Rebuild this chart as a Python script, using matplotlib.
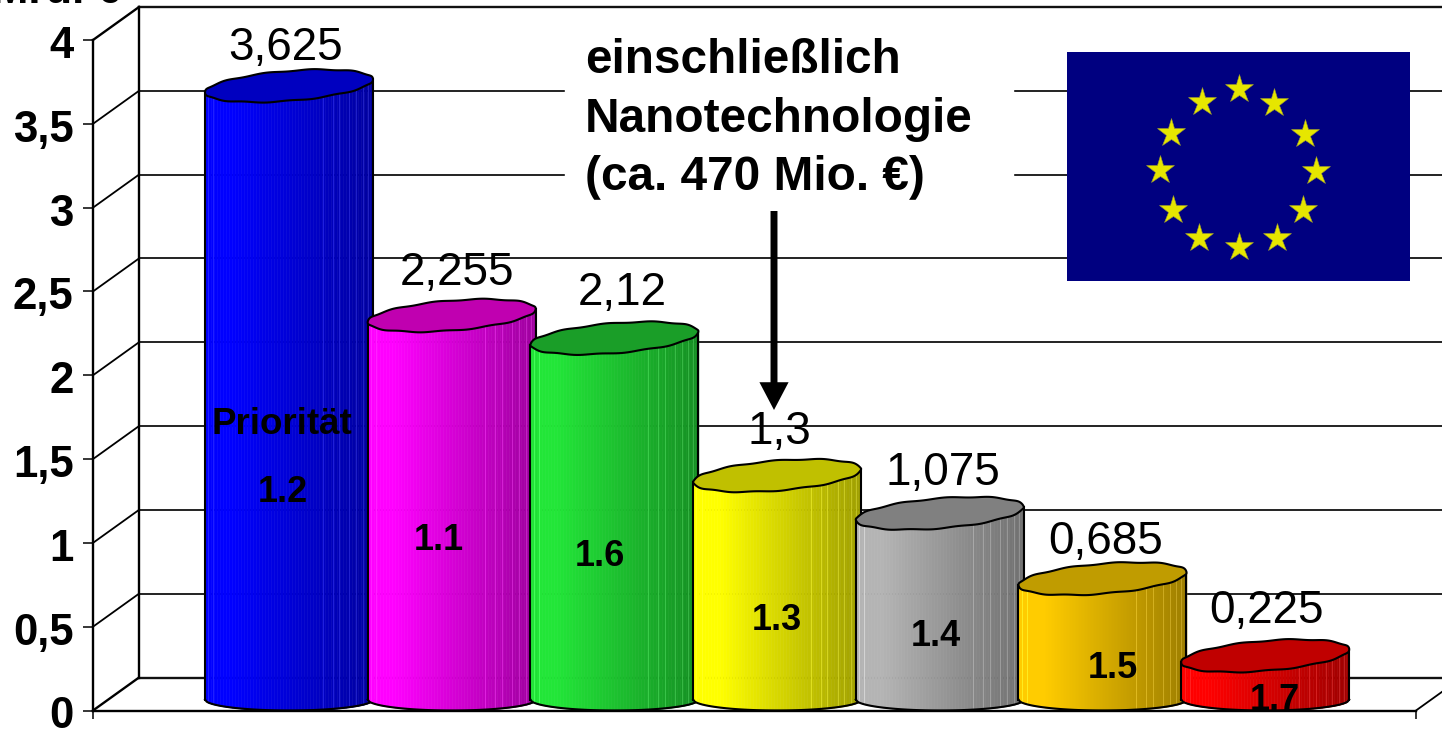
import numpy as np
import matplotlib
matplotlib.use('Agg')
import matplotlib.pyplot as plt
from matplotlib.colors import to_rgb
from matplotlib.transforms import ScaledTranslation

plt.rcParams['font.family'] = ['Liberation Sans', 'DejaVu Sans']

W, H = 1442, 733

# Daten
prioritaeten = ['1.2', '1.1', '1.6', '1.3', '1.4', '1.5', '1.7']
werte = [3.625, 2.255, 2.12, 1.3, 1.075, 0.685, 0.225]
wert_texte = ['3,625', '2,255', '2,12', '1,3', '1,075', '0,685', '0,225']
y_ticks = [0, 0.5, 1, 1.5, 2, 2.5, 3, 3.5, 4]
y_tick_texte = ['0', '0,5', '1', '1,5', '2', '2,5', '3', '3,5', '4']

# Farben der Zylinder (Mantel, Deckel)
mantel = ['#0000ff', '#ff00ff', '#22e638', '#ffff00', '#b4b4b4', '#ffcc00', '#ff0000']
deckel = ['#0000c0', '#c000b0', '#1a9e28', '#c0c000', '#808080', '#c09c00', '#c00000']

# Position der Beschriftungen in Pixeln
wert_dx = [-3, 5, 8, 2, 3, 3, 1]
wert_dy = [43, 48, 50, 49, 45, 42, 50]
prio_xy = [(283, 493), (439, 540), (600, 557), (777, 621), (936, 636), (1113, 669), (1275, 701)]

# Sterne der Flagge in Pixeln
sterne_x = [1239, 1274, 1305, 1316, 1303, 1277, 1239, 1199, 1173, 1160, 1171, 1202]
sterne_y = [89, 103, 134, 171, 210, 238, 247, 238, 210, 170, 133, 102]

# Achsenbereich im Bild
links, rechts, unten, oben = 93, 1416, 710.5, 40
px_x = 1 / 162.7
px_y = 4.0 / (unten - oben)
x0 = (links - 289) * px_x
x1 = (rechts - 289) * px_x
tiefe_x = 46 * px_x
tiefe_y = 33 * px_y


def fx(x):
    return x / W


def fy(y):
    return 1 - y / H


def helligkeit(t):
    return 1.0 if t < 0.15 else 1.0 - 0.38 * (t - 0.15) / 0.85


def zylinder(ax, i, wert, farbe, farbe_oben):
    z = 10 + i
    a = 84 * px_x
    base = np.array(to_rgb(farbe))

    # Oberkante (Gerade zwischen den Deckelenden) und Unterkante des Mantels
    zentrum = wert + 17 * px_y
    kipp = 6.5 * px_y

    def unterkante(x):
        u = np.clip((x - i) / a, -1, 1)
        return 11 * px_y * (1 - np.sqrt(1 - u ** 2))

    kanten = np.linspace(i - a, i + a, 57)
    for k in range(56):
        t = (k + 0.5) / 56
        xs = kanten[k:k + 2]
        oben_y = zentrum + kipp * ((xs - i) / a)
        ax.fill_between(xs, unterkante(xs), oben_y, color=base * helligkeit(t), lw=0.4, zorder=z)

    # helle Streifen auf dem Mantel
    for t in [0.02, 0.05, 0.70, 0.76, 0.80, 0.86, 0.90, 0.94, 0.97]:
        xs = i - a + 2 * a * t
        c = np.minimum(base * helligkeit(t) + 0.13, 1)
        ax.plot([xs, xs], [unterkante(np.array(xs)), zentrum + kipp * ((xs - i) / a)],
                color=c, lw=0.7, zorder=z, solid_capstyle='butt')

    # Umriss des Mantels
    xb = np.linspace(i - a, i + a, 100)
    ax.plot(xb, unterkante(xb), color='k', lw=1.5, zorder=z)
    ax.plot([i - a, i - a], [unterkante(np.array(i - a)), zentrum - kipp], color='k', lw=1.5, zorder=z)
    ax.plot([i + a, i + a], [unterkante(np.array(i + a)), zentrum + kipp], color='k', lw=1.5, zorder=z)

    # Deckel
    th = np.linspace(0, 2 * np.pi, 200)
    wellen = 0.5 * px_y * np.sin(11 * th + i)
    ex = i + a * np.cos(th)
    ey = zentrum + 15 * px_y * np.sin(th) + kipp * np.cos(th) + wellen
    ax.fill(ex, ey, facecolor=farbe_oben, edgecolor='k', lw=1.5, zorder=z + 0.5)


fig = plt.figure(figsize=(W / 100, H / 100), dpi=100, facecolor='white')
ax = fig.add_axes([fx(links), 1 - unten / H, (rechts - links) / W, (unten - oben) / H])
ax.set_xlim(x0, x1)
ax.set_ylim(0, 4)

for s in ['top', 'right']:
    ax.spines[s].set_visible(False)
for s in ['left', 'bottom']:
    ax.spines[s].set_linewidth(1.7)
    ax.spines[s].set_zorder(30)

ax.set_yticks(y_ticks)
ax.set_yticklabels(y_tick_texte, fontsize=31.5, fontweight='bold')
ax.tick_params(axis='y', length=7.5, width=1.1, pad=5)
versatz = ScaledTranslation(-2 / 100, -2 / 100, fig.dpi_scale_trans)
for label in ax.get_yticklabels():
    label.set_transform(label.get_transform() + versatz)
ax.set_xticks([x0, x1])
ax.set_xticklabels(['', ''])
ax.tick_params(axis='x', length=6, width=1.1)

# Rueckwand und Seitenwand
for v in y_ticks:
    lw = 1.7 if v in (0, 4) else 1.3
    ax.plot([x0, x0 + tiefe_x], [v, v + tiefe_y], color='k', lw=lw, clip_on=False, zorder=2)
    ax.plot([x0 + tiefe_x, x1 + tiefe_x], [v + tiefe_y, v + tiefe_y], color='#111111', lw=lw,
            clip_on=False, zorder=2)
ax.plot([x0 + tiefe_x, x0 + tiefe_x], [tiefe_y, 4 + tiefe_y], color='k', lw=1.7, clip_on=False, zorder=2)
ax.plot([x1, x1 + tiefe_x], [0, tiefe_y], color='k', lw=1.3, clip_on=False, zorder=2)

for i in range(len(werte)):
    zylinder(ax, i, werte[i], mantel[i], deckel[i])

# Wertebeschriftung ueber den Zylindern
for i in range(len(werte)):
    ax.annotate(wert_texte[i], xy=(i, werte[i]), xycoords='data',
                xytext=(wert_dx[i] * 0.72, wert_dy[i] * 0.72), textcoords='offset points',
                ha='center', va='baseline', fontsize=33, zorder=40)

# Text im Zylinder
for p, (x, y) in zip(prioritaeten, prio_xy):
    t = ax.text(fx(x), fy(y), p, transform=fig.transFigure, ha='center', va='center',
                fontsize=26, fontweight='bold', zorder=41, clip_on=True)
ax.text(fx(282), fy(424), 'Priorität', transform=fig.transFigure, ha='center', va='center',
        fontsize=26.5, fontweight='bold', zorder=41)

# Hinweis mit weissem Hintergrund und Pfeil
ax.fill([fx(565), fx(1013), fx(1013), fx(565)], [fy(25), fy(25), fy(215), fy(215)],
        color='white', transform=fig.transFigure, clip_on=False, zorder=35)
for zeile, y in [('einschließlich', 73), ('Nanotechnologie', 132), ('(ca. 470 Mio. €)', 190)]:
    ax.text(fx(585), fy(y), zeile, transform=fig.transFigure, ha='left', va='baseline',
            fontsize=34.4, fontweight='bold', zorder=36, clip_on=False)
ax.fill([fx(565), fx(1013), fx(1013), fx(565)], [fy(200), fy(200), fy(215), fy(215)],
        color='white', transform=fig.transFigure, clip_on=False, zorder=37)
ax.annotate('', xy=(774, H - 410), xycoords='figure pixels',
            xytext=(774, H - 211), textcoords='figure pixels',
            arrowprops=dict(width=5, headwidth=21, headlength=20, shrink=0, color='k', lw=0),
            zorder=38)

# Ueberschrift der Achse, oben angeschnitten
fig.text(fx(-8), fy(3), 'Mrd. €', ha='left', va='baseline', fontsize=31.5, fontweight='bold')

# Europaflagge
flag = fig.add_axes([fx(1067), 1 - 281 / H, 343 / W, 229 / H], zorder=5)
flag.set_xlim(1067, 1410)
flag.set_ylim(281, 52)
flag.set_facecolor('#000080')
flag.set_xticks([])
flag.set_yticks([])
for s in flag.spines.values():
    s.set_visible(False)
flag.plot(sterne_x, sterne_y, linestyle='none', marker='*', markersize=21,
          markerfacecolor='#e6e600', markeredgecolor='#9a9a30', markeredgewidth=0.4)

fig.savefig('out.png', dpi=100, facecolor='white')
